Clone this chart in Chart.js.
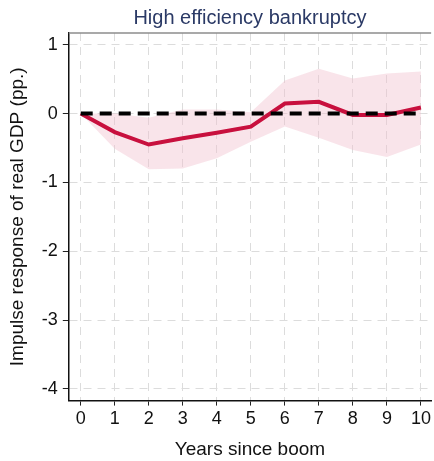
<!DOCTYPE html>
<html>
<head>
<meta charset="utf-8">
<script src="https://cdn.jsdelivr.net/npm/chart.js@4.4.1/dist/chart.umd.min.js"></script>
<style>
  html, body { margin: 0; padding: 0; background: #fff; }
  #wrap { width: 434px; height: 461px; }
</style>
</head>
<body>
<div id="wrap"><canvas id="irf"></canvas></div>
<script>
const years = [0, 1, 2, 3, 4, 5, 6, 7, 8, 9, 10];
const response = [0, -0.27, -0.45, -0.36, -0.28, -0.19, 0.145, 0.17, -0.02, -0.02, 0.087];
const bandUpper = [0, 0.0, -0.06, 0.06, 0.06, 0.02, 0.48, 0.65, 0.51, 0.58, 0.61];
const bandLower = [0, -0.51, -0.81, -0.80, -0.65, -0.41, -0.19, -0.35, -0.53, -0.63, -0.45];
const baseline = [0, 0, 0, 0, 0, 0, 0, 0, 0, 0, 0];
const yTicks = [-4, -3, -2, -1, 0, 1];

const toPoints = (values) => years.map((x, i) => ({ x, y: values[i] }));

const FONT = "'Liberation Sans', Arial, sans-serif";

// top border of the plot frame
const frameTop = {
  id: "frameTop",
  afterDraw(chart) {
    const { ctx, chartArea } = chart;
    ctx.save();
    ctx.strokeStyle = "#8c8c8c";
    ctx.lineWidth = 1.5;
    ctx.beginPath();
    ctx.moveTo(chartArea.left, chartArea.top);
    ctx.lineTo(chartArea.right, chartArea.top);
    ctx.stroke();
    ctx.restore();
  },
};

new Chart(document.getElementById("irf"), {
  type: "line",
  data: {
    datasets: [
      {
        label: "upper",
        data: toPoints(bandUpper),
        borderWidth: 0,
        pointRadius: 0,
        fill: false,
        order: 3,
      },
      {
        label: "lower",
        data: toPoints(bandLower),
        borderWidth: 0,
        pointRadius: 0,
        backgroundColor: "rgba(240, 190, 204, 0.42)",
        fill: "-1",
        order: 3,
      },
      {
        label: "response",
        data: toPoints(response),
        borderColor: "#c8103e",
        borderWidth: 4,
        pointRadius: 0,
        fill: false,
        order: 2,
      },
      {
        label: "zero",
        data: toPoints(baseline),
        borderColor: "#000",
        borderWidth: 4,
        borderDash: [12, 7],
        pointRadius: 0,
        fill: false,
        order: 1,
      },
    ],
  },
  options: {
    responsive: true,
    maintainAspectRatio: false,
    animation: false,
    layout: { padding: { left: 6, right: 0, top: 0, bottom: 0 } },
    plugins: {
      legend: { display: false },
      tooltip: { enabled: false },
      title: {
        display: true,
        fullSize: false,
        text: "High efficiency bankruptcy",
        color: "#2b3a66",
        font: { family: FONT, size: 20, weight: "normal" },
        padding: { top: 6, bottom: 3 },
      },
    },
    scales: {
      x: {
        type: "linear",
        min: -0.35,
        max: 10.3,
        afterBuildTicks: (scale) => {
          scale.ticks = years.map((v) => ({ value: v }));
        },
        ticks: {
          color: "#111",
          font: { family: FONT, size: 18 },
          padding: 3,
          maxRotation: 0,
        },
        grid: {
          color: "#dcdcdc",
          tickBorderDash: [],
          tickColor: "#222",
          tickLength: 5,
        },
        // border.dash also dashes the grid lines in v4
        border: { color: "#111", width: 1.5, dash: [8, 6] },
        title: {
          display: true,
          text: "Years since boom",
          color: "#111",
          font: { family: FONT, size: 19 },
          padding: { top: 5, bottom: 0 },
        },
      },
      y: {
        type: "linear",
        min: -4.17,
        max: 1.17,
        afterBuildTicks: (scale) => {
          scale.ticks = yTicks.map((v) => ({ value: v }));
        },
        ticks: {
          color: "#111",
          font: { family: FONT, size: 18 },
          padding: 5,
        },
        grid: {
          color: "#dcdcdc",
          tickBorderDash: [],
          tickColor: "#222",
          tickLength: 6,
        },
        border: { color: "#111", width: 1.5, dash: [8, 6] },
        title: {
          display: true,
          text: "Impulse response of real GDP (pp.)",
          color: "#111",
          font: { family: FONT, size: 19 },
          padding: { top: 0, bottom: 8 },
        },
      },
    },
  },
  plugins: [frameTop],
});
</script>
</body>
</html>
